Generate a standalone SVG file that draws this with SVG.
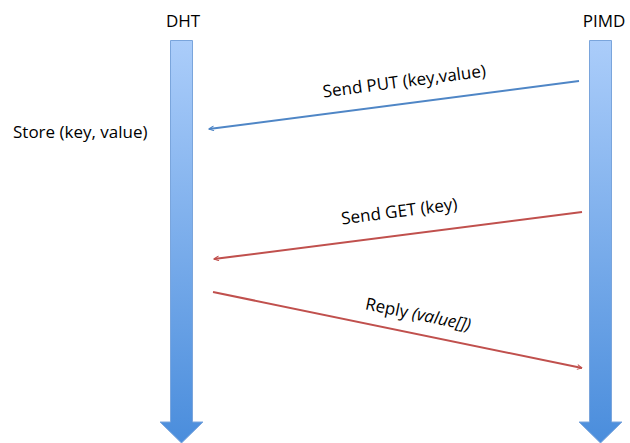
<svg xmlns="http://www.w3.org/2000/svg" width="630" height="443" viewBox="0 0 630 443">
<style>
text{font-family:"Open Sans","Noto Sans",sans-serif;font-size:17px;fill:#000}
.it{font-style:italic}
.life{fill:url(#g);stroke:#7aa5dc;stroke-width:1}
.blue{stroke:#4f86c6;stroke-width:2;fill:none}
.red{stroke:#c0504d;stroke-width:2;fill:none}
</style>
<defs>
<linearGradient id="g" x1="0" y1="0" x2="0" y2="1">
<stop offset="0" stop-color="#abcdfa"/>
<stop offset="1" stop-color="#4a8ddc"/>
</linearGradient>
<marker id="ab" viewBox="0 0 10 10" refX="9" refY="5" markerWidth="6" markerHeight="6" orient="auto" markerUnits="userSpaceOnUse">
<path d="M1,1 L9,5 L1,9" fill="none" stroke="#4f86c6" stroke-width="1.6"/>
</marker>
<marker id="ar" viewBox="0 0 10 10" refX="9" refY="5" markerWidth="6" markerHeight="6" orient="auto" markerUnits="userSpaceOnUse">
<path d="M1,1 L9,5 L1,9" fill="none" stroke="#c0504d" stroke-width="1.6"/>
</marker>
</defs>
<rect width="630" height="443" fill="#fff"/>
<g id="dht">
<path class="life" d="M170.5,40.5 H192.5 V422 H203 L181.5,443 L160,422 H170.5 Z"/>
<text x="183" y="27" text-anchor="middle">DHT</text>
</g>
<g id="pimd">
<path class="life" d="M589.5,40.5 H611.5 V422 H622 L600.5,443 L579,422 H589.5 Z"/>
<text x="604" y="27" text-anchor="middle">PIMD</text>
</g>
<g id="store">
<text x="13" y="138">Store (key, value)</text>
</g>
<g id="connectors">
<line class="blue" x1="579" y1="81" x2="209" y2="129" marker-end="url(#ab)"/>
<line class="red" x1="582" y1="212" x2="214" y2="259" marker-end="url(#ar)"/>
<line class="red" x1="213" y1="292" x2="582" y2="368" marker-end="url(#ar)"/>
<text transform="translate(405,87) rotate(-7.4)" text-anchor="middle">Send PUT (key,value)</text>
<text transform="translate(400,217) rotate(-7.3)" text-anchor="middle">Send GET (key)</text>
<text transform="translate(417,320) rotate(11.6)" text-anchor="middle">Reply <tspan class="it">(value[])</tspan></text>
</g>
</svg>
